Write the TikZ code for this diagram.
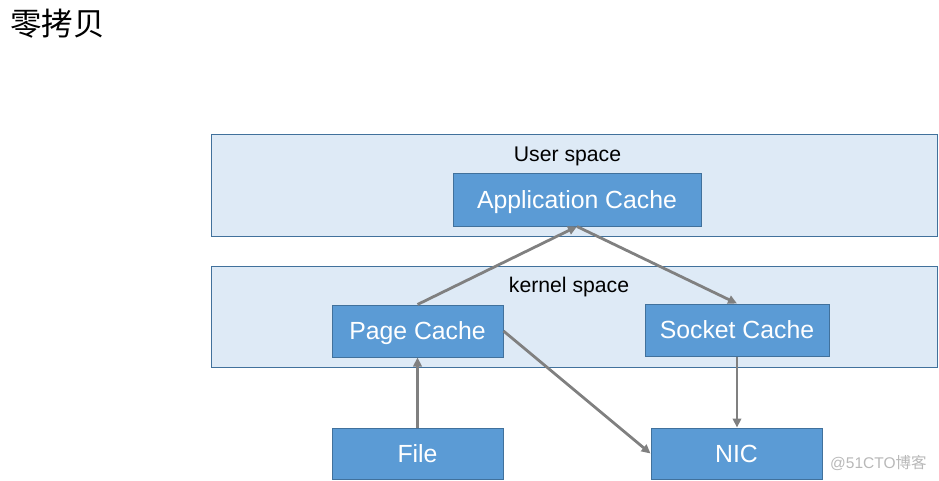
\documentclass[tikz,border=0pt]{standalone}
\usepackage{fontspec}
\setmainfont{Liberation Sans}
\newfontfamily\cjk{Noto Sans CJK SC}
\usepackage{xcolor}
\usetikzlibrary{arrows.meta,positioning}

\definecolor{cachefill}{HTML}{5B9BD5}
\definecolor{cacheedge}{HTML}{41719C}
\definecolor{spacefill}{HTML}{DEEAF6}
\definecolor{flowgray}{HTML}{808080}

\begin{document}
\begin{tikzpicture}[x=1pt, y=-1pt,
  cache/.style={draw=cacheedge, line width=1pt, fill=cachefill, text=white, font=\fontsize{24.8}{28}\selectfont, inner sep=0pt, text height=17.8pt, text depth=0pt},
  region/.style={draw=cacheedge, line width=1pt, fill=spacefill},
  spacelabel/.style={font=\fontsize{21.2}{24}\selectfont, inner sep=0pt, text height=15.2pt, text depth=0pt},
  flow/.style={-{Triangle[length=9pt,width=8.5pt]}, line width=2.8pt, flowgray}]

\useasboundingbox (0,0) rectangle (939,481);

% Title
\node[font=\cjk\fontsize{31.5}{36}\selectfont, anchor=west, inner sep=0pt] (title) at (10,24) {零拷贝};

% User space and kernel space
\draw[region] (211,135) rectangle (937,236);
\node[spacelabel] (user) at (567.5,153.5) {User space};
\draw[region] (211,266) rectangle (937,367);
\node[spacelabel] (kernel) at (569,285) {kernel space};

% Buffers
\node[cache, minimum width=248pt, minimum height=52pt] (app) at (577,200) {Application Cache};
\node[cache, minimum width=171pt, minimum height=52pt] (page) at (417.5,331) {Page Cache};
\node[cache, minimum width=184pt, minimum height=52pt] (sock) at (737,330) {Socket Cache};
\node[cache, minimum width=171pt, minimum height=51pt] (file) at (417.5,453.5) {File};
\node[cache, minimum width=171pt, minimum height=51pt] (nic) at (736.5,453.5) {NIC};

% Data path
\draw[flow] (file.north) -- (page.south);
\draw[flow] (page.north) -- (app.south);
\draw[flow] (app.south) -- (sock.north);
\draw[flow] (sock.south) -- (sock.south |- nic.north);
\draw[flow] (page.east) -- (nic.west);

% Watermark
\node[font=\fontsize{15.5}{18}\selectfont, text=black!28, anchor=west, inner sep=0pt] (mark) at (830,463) {@51CTO{\cjk 博客}};

\end{tikzpicture}
\end{document}
